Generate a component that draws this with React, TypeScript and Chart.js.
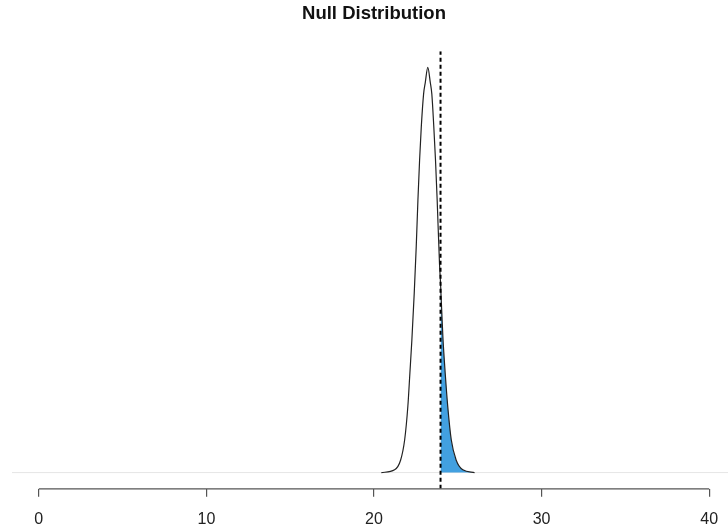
import React, { useEffect, useRef } from "react";
import { Chart, registerables } from "chart.js";

Chart.register(...registerables);

const titleText = "Null Distribution";
const xTicks = [0, 10, 20, 30, 40];
const xLimits = [0, 40];
const obsStat = 23.97;

const curveX = [20.44, 21.23, 21.59, 21.83, 22.02, 22.14, 22.26, 22.4, 22.52, 22.62, 22.72, 22.82, 22.96, 23.06, 23.21, 23.36, 23.45, 23.57, 23.67, 23.77, 23.91, 23.97, 24.11, 24.25, 24.4, 24.61, 24.9, 25.3, 26.0];
const curveY = [0.0, 0.0044, 0.02, 0.052, 0.105, 0.157, 0.21, 0.284, 0.358, 0.431, 0.495, 0.547, 0.6, 0.618, 0.642, 0.618, 0.6, 0.547, 0.495, 0.431, 0.33, 0.3, 0.215, 0.157, 0.105, 0.052, 0.02, 0.0044, 0.0];

const tailX = [23.97, 24.11, 24.25, 24.4, 24.61, 24.9, 25.3, 26.0];
const tailY = [0.3, 0.215, 0.157, 0.105, 0.052, 0.02, 0.0044, 0.0];

export default function App() {
  const ref = useRef<HTMLCanvasElement | null>(null);

  useEffect(() => {
    if (!ref.current) return;
    const yMax = Math.max(...curveY);
    const xSpan = xLimits[1] - xLimits[0];
    const xMin = xLimits[0] - 0.04 * xSpan;
    const xMax = xLimits[1] + 0.04 * xSpan;
    const yLo = -0.04 * yMax;
    const yHi = 1.04 * yMax;

    const axisLine = {
      id: "axisLine",
      afterDraw(chart: any) {
        const ctx = chart.ctx;
        const xs = chart.scales.x;
        const y = chart.chartArea.bottom;
        ctx.save();
        ctx.strokeStyle = "#555";
        ctx.lineWidth = 1.3;
        ctx.beginPath();
        ctx.moveTo(xs.getPixelForValue(xLimits[0]), y);
        ctx.lineTo(xs.getPixelForValue(xLimits[1]), y);
        ctx.stroke();
        ctx.restore();
      },
    };

    const chart = new Chart(ref.current, {
      type: "line",
      data: {
        datasets: [
          {
            label: "observed",
            data: [
              { x: obsStat, y: yLo },
              { x: obsStat, y: yHi },
            ],
            borderColor: "#000",
            borderWidth: 2,
            borderDash: [4, 3],
            pointRadius: 0,
            fill: false,
          },
          {
            label: "density",
            data: curveX.map((x, i) => ({ x, y: curveY[i] })),
            borderColor: "#222",
            borderWidth: 1.2,
            pointRadius: 0,
            fill: false,
            cubicInterpolationMode: "monotone",
          },
          {
            label: "tail",
            data: tailX.map((x, i) => ({ x, y: tailY[i] })),
            borderColor: "rgba(0,0,0,0)",
            borderWidth: 0,
            backgroundColor: "rgb(66,160,224)",
            pointRadius: 0,
            fill: "origin",
            cubicInterpolationMode: "monotone",
          },
          {
            label: "baseline",
            data: [
              { x: xMin, y: 0 },
              { x: xMax, y: 0 },
            ],
            borderColor: "#e6e6e6",
            borderWidth: 1,
            pointRadius: 0,
            fill: false,
          },
        ],
      },
      options: {
        animation: false,
        responsive: false,
        devicePixelRatio: 1,
        layout: { padding: { left: 12, right: 12, top: 0, bottom: 0 } },
        scales: {
          x: {
            type: "linear",
            min: xMin,
            max: xMax,
            afterBuildTicks: (axis: any) => {
              axis.ticks = xTicks.map((v) => ({ value: v }));
            },
            grid: {
              display: true,
              drawOnChartArea: false,
              drawTicks: true,
              tickLength: 8,
              color: "#555",
              lineWidth: 1.2,
            },
            border: { display: false },
            ticks: {
              padding: 13,
              color: "#222",
              font: { family: "'Liberation Sans', Arial, sans-serif", size: 16 },
              callback: (v: any) => String(v),
            },
          },
          y: {
            type: "linear",
            min: yLo,
            max: yHi,
            display: false,
          },
        },
        plugins: {
          legend: { display: false },
          tooltip: { enabled: false },
          title: {
            display: true,
            text: titleText,
            color: "#111",
            font: { family: "'Liberation Sans', Arial, sans-serif", size: 18.5, weight: "bold" },
            padding: { top: 3, bottom: 26 },
          },
        },
      },
      plugins: [axisLine],
    });
    return () => chart.destroy();
  }, []);

  return (
    <div
      style={{
        position: "fixed",
        left: 0,
        top: 0,
        width: 728,
        height: 527,
        overflow: "hidden",
        background: "#fff",
      }}
    >
      <canvas ref={ref} width={748} height={542} style={{ display: "block" }} />
    </div>
  );
}
